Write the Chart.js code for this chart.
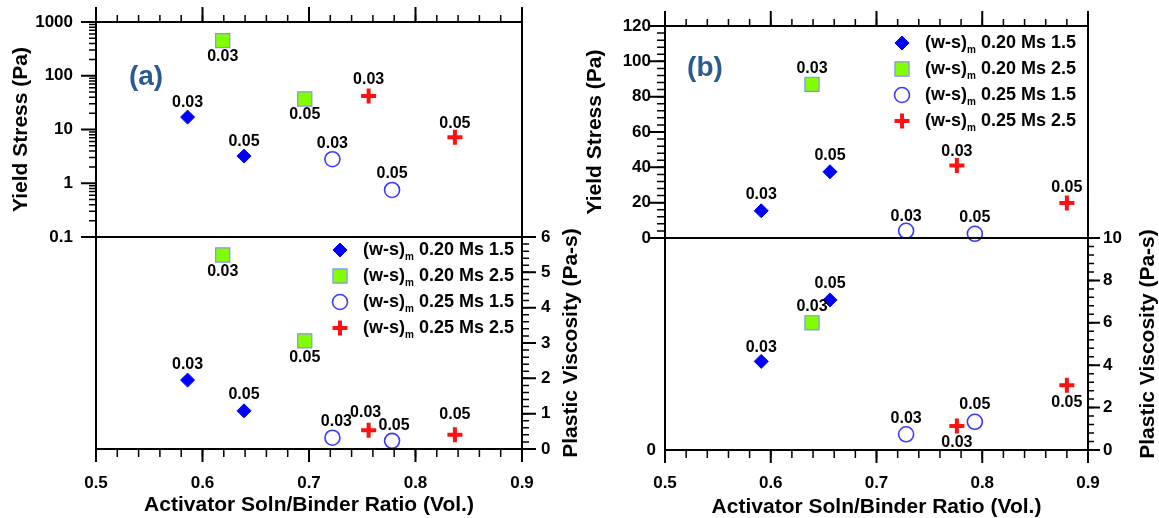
<!DOCTYPE html>
<html>
<head>
<meta charset="utf-8">
<title>Yield stress and plastic viscosity vs activator ratio</title>
<script src="https://cdn.jsdelivr.net/npm/chart.js"></script>
<style>
  html, body { margin: 0; padding: 0; background: #fff; }
  #wrap { position: relative; width: 1159px; height: 518px; overflow: hidden; background: #fff; }
  #wrap canvas { position: absolute; left: 0; top: 0; }
</style>
</head>
<body>
<div id="wrap">
  <canvas id="aTop" width="1159" height="518"></canvas>
  <canvas id="aBot" width="1159" height="518"></canvas>
  <canvas id="bTop" width="1159" height="518"></canvas>
  <canvas id="bBot" width="1159" height="518"></canvas>
</div>
<script>
// point tags and series names
const tags = ['0.03', '0.05'];
const bTags2 = ['0.03'];
const seriesNames = ['0.20 Ms 1.5', '0.20 Ms 2.5', '0.25 Ms 1.5', '0.25 Ms 2.5'];

// panel (a): activator soln/binder ratio, yield stress (Pa), plastic viscosity (Pa-s)
const aRatio1 = [0.586, 0.639];
const aYield1 = [17, 3.2];
const aVisc1 = [1.95, 1.08];
const aRatio2 = [0.619, 0.696];
const aYield2 = [450, 37];
const aVisc2 = [5.49, 3.06];
const aRatio3 = [0.722, 0.778];
const aYield3 = [2.8, 0.75];
const aVisc3 = [0.32, 0.23];
const aRatio4 = [0.756, 0.837];
const aYield4 = [42, 7.2];
const aVisc4 = [0.53, 0.40];

// panel (b)
const bRatio1 = [0.591, 0.656];
const bYield1 = [15.4, 37.5];
const bVisc1 = [4.18, 7.08];
const bRatio2 = [0.639];
const bYield2 = [87];
const bVisc2 = [6.0];
const bRatio3 = [0.728, 0.793];
const bYield3 = [4.1, 2.4];
const bVisc3 = [0.74, 1.33];
const bRatio4 = [0.776, 0.880];
const bYield4 = [41, 19.8];
const bVisc4 = [1.13, 3.06];

// tick labels
const xTicks = [0.5, 0.6, 0.7, 0.8, 0.9];
const aYieldTicks = [0.1, 1, 10, 100, 1000];
const aViscTicks = [0, 1, 2, 3, 4, 5, 6];
const bYieldTicks = [0, 20, 40, 60, 80, 100, 120];
const bViscTicks = [0, 2, 4, 6, 8, 10];

const FONT = "'Liberation Sans', Arial, Helvetica, sans-serif";
Chart.defaults.font.family = FONT;
Chart.defaults.font.size = 17;
Chart.defaults.font.weight = 'bold';
Chart.defaults.color = '#000';

// marker look for each series
const markers = [
  { style: 'rectRot', r: 7, bg: '#0000ff', border: '#0000ff', bw: 1 },
  { style: 'rect', r: 10, bg: '#80ff00', border: '#8c8cff', bw: 1.2 },
  { style: 'circle', r: 7.5, bg: 'rgba(0,0,0,0)', border: '#3a3aff', bw: 1.6 },
  { style: 'cross', r: 7.5, bg: '#ff0000', border: '#ff1010', bw: 4 }
];

function steps(lo, hi, st) {
  const out = [];
  const n = Math.round((hi - lo) / st);
  for (let i = 0; i <= n; i++) out.push(lo + i * st);
  return out;
}

function logMinor(lo, hi) {
  const out = [];
  for (let d = lo; d < hi; d *= 10) {
    for (let k = 2; k <= 9; k++) out.push(k * d);
  }
  return out;
}

function makeSet(k, xs, ys, tagList, place) {
  const m = markers[k];
  return {
    label: seriesNames[k],
    data: xs.map((x, i) => ({ x: x, y: ys[i] })),
    tags: tagList,
    tagPlace: place,
    showLine: false,
    clip: false,
    pointStyle: m.style,
    pointRadius: m.r,
    pointHoverRadius: m.r,
    pointBackgroundColor: m.bg,
    pointBorderColor: m.border,
    pointBorderWidth: m.bw
  };
}

function axis(o) {
  return {
    type: o.type || 'linear',
    position: o.position,
    min: o.min,
    max: o.max,
    afterBuildTicks: s => { s.ticks = o.ticks.map(v => ({ value: v })); },
    afterFit: s => {
      if (o.position === 'top' || o.position === 'bottom') s.height = o.size;
      else s.width = o.size;
    },
    ticks: {
      display: o.labels !== false,
      padding: o.pad || 0,
      autoSkip: false,
      maxRotation: 0,
      callback: v => (o.fmt ? o.fmt(v) : String(v))
    },
    grid: {
      display: true,
      drawOnChartArea: false,
      drawTicks: true,
      tickLength: o.tl || 0,
      color: 'rgba(0,0,0,0)',
      tickColor: 'rgba(0,0,0,0)'
    },
    border: { display: false },
    title: o.title
      ? { display: true, text: o.title, padding: o.titlePad, color: '#000',
          font: { size: 21, weight: 'bold', lineHeight: 1 } }
      : { display: false }
  };
}

// box around the plot area plus outward tick marks
const framePlugin = {
  id: 'frame',
  afterDraw(chart, args, opts) {
    const { ctx, chartArea: a } = chart;
    ctx.save();
    ctx.strokeStyle = '#000';
    ctx.lineWidth = 2;
    ctx.strokeRect(a.left, a.top, a.right - a.left, a.bottom - a.top);
    (opts.marks || []).forEach(m => {
      const sc = chart.scales[m.axis];
      const draw = (vals, len, w) => {
        ctx.lineWidth = w;
        ctx.beginPath();
        vals.forEach(v => {
          const p = sc.getPixelForValue(v);
          if (m.side === 'top') { ctx.moveTo(p, a.top); ctx.lineTo(p, a.top - len); }
          if (m.side === 'bottom') { ctx.moveTo(p, a.bottom); ctx.lineTo(p, a.bottom + len); }
          if (m.side === 'left') { ctx.moveTo(a.left, p); ctx.lineTo(a.left - len, p); }
          if (m.side === 'right') { ctx.moveTo(a.right, p); ctx.lineTo(a.right + len, p); }
        });
        ctx.stroke();
      };
      draw(m.minor, m.minorLen, 1.5);
      draw(m.major, m.majorLen, 2);
    });
    ctx.restore();
  }
};

// 0.03 / 0.05 tags next to each point
const tagPlugin = {
  id: 'tags',
  afterDatasetsDraw(chart) {
    const ctx = chart.ctx;
    ctx.save();
    ctx.font = 'bold 16px ' + FONT;
    ctx.fillStyle = '#000';
    ctx.textAlign = 'center';
    ctx.textBaseline = 'middle';
    chart.data.datasets.forEach((ds, i) => {
      const meta = chart.getDatasetMeta(i);
      meta.data.forEach((pt, j) => {
        const off = Array.isArray(ds.tagPlace) ? ds.tagPlace[j] : [0, ds.tagPlace];
        ctx.fillText(ds.tags[j], pt.x + off[0], pt.y + off[1]);
      });
    });
    ctx.restore();
  }
};

function drawMarker(ctx, m, x, y) {
  const r = m.r;
  ctx.save();
  ctx.fillStyle = m.bg;
  ctx.strokeStyle = m.border;
  ctx.lineWidth = m.bw;
  ctx.beginPath();
  if (m.style === 'rectRot') {
    ctx.moveTo(x, y - r); ctx.lineTo(x + r, y); ctx.lineTo(x, y + r); ctx.lineTo(x - r, y);
    ctx.closePath(); ctx.fill(); ctx.stroke();
  } else if (m.style === 'rect') {
    const s = r * Math.SQRT1_2;
    ctx.rect(x - s, y - s, 2 * s, 2 * s); ctx.fill(); ctx.stroke();
  } else if (m.style === 'circle') {
    ctx.arc(x, y, r, 0, Math.PI * 2); ctx.stroke();
  } else {
    ctx.moveTo(x - r, y); ctx.lineTo(x + r, y);
    ctx.moveTo(x, y - r); ctx.lineTo(x, y + r); ctx.stroke();
  }
  ctx.restore();
}

// panel letter, legend and the right-hand rotated title
const notePlugin = {
  id: 'notes',
  afterDraw(chart, args, opts) {
    const { ctx, chartArea: a } = chart;
    ctx.save();
    if (opts.letter) {
      ctx.font = 'bold 28px ' + FONT;
      ctx.fillStyle = '#2b5a93';
      ctx.textAlign = 'center';
      ctx.textBaseline = 'middle';
      ctx.fillText(opts.letter.text, a.left + opts.letter.dx, a.top + opts.letter.dy);
    }
    if (opts.legend) {
      const L = opts.legend;
      ctx.fillStyle = '#000';
      ctx.textBaseline = 'middle';
      ctx.textAlign = 'left';
      seriesNames.forEach((name, k) => {
        const mx = a.left + L.dx;
        const my = a.top + L.dy + k * L.step;
        drawMarker(ctx, markers[k], mx, my);
        let tx = mx + 23;
        ctx.font = 'bold 18px ' + FONT;
        ctx.fillText('(w-s)', tx, my);
        tx += ctx.measureText('(w-s)').width;
        ctx.font = 'bold 10px ' + FONT;
        ctx.fillText('m', tx, my + 7);
        tx += ctx.measureText('m').width;
        ctx.font = 'bold 18px ' + FONT;
        ctx.fillText(' ' + name, tx, my);
      });
    }
    if (opts.sideTitle) {
      const sc = chart.scales[opts.sideTitle.axis];
      ctx.font = 'bold 21px ' + FONT;
      ctx.fillStyle = '#000';
      ctx.textAlign = 'center';
      ctx.textBaseline = 'middle';
      ctx.translate(sc.right - opts.sideTitle.inset, (a.top + a.bottom) / 2);
      ctx.rotate(-Math.PI / 2);
      ctx.fillText(opts.sideTitle.text, 0, 0);
    }
    ctx.restore();
  }
};

function scatterChart(id, datasets, scales, padding, plugOpts) {
  return new Chart(document.getElementById(id), {
    type: 'scatter',
    data: { datasets: datasets },
    options: {
      responsive: false,
      animation: false,
      devicePixelRatio: 1,
      events: [],
      layout: { padding: padding },
      scales: scales,
      plugins: Object.assign({ legend: { display: false }, tooltip: { enabled: false } }, plugOpts)
    },
    plugins: [framePlugin, tagPlugin, notePlugin]
  });
}

const fmtX = v => v.toFixed(1);
const xTitle = 'Activator Soln/Binder Ratio (Vol.)';
const xMinor = steps(0.5, 0.9, 0.02);

// (a) top: yield stress, log scale
scatterChart('aTop', [
  makeSet(0, aRatio1, aYield1, tags, -15),
  makeSet(1, aRatio2, aYield2, tags, 16),
  makeSet(2, aRatio3, aYield3, tags, -16),
  makeSet(3, aRatio4, aYield4, tags, [[0, -16], [0, -14]])
], {
  x: axis({ position: 'top', min: 0.5, max: 0.9, ticks: xTicks, labels: false, size: 22 }),
  y: axis({ type: 'logarithmic', position: 'left', min: 0.1, max: 1000, ticks: aYieldTicks,
            size: 96, tl: 15, pad: 8, title: 'Yield Stress (Pa)', titlePad: 11 })
}, { left: 0, top: 0, right: 637, bottom: 281 }, {
  frame: { marks: [
    { axis: 'x', side: 'top', major: xTicks, minor: xMinor, majorLen: 15, minorLen: 7 },
    { axis: 'y', side: 'left', major: aYieldTicks, minor: logMinor(0.1, 1000), majorLen: 15, minorLen: 7 }
  ] },
  notes: { letter: { text: '(a)', dx: 50, dy: 55.5 } }
});

// (a) bottom: plastic viscosity
scatterChart('aBot', [
  makeSet(0, aRatio1, aVisc1, tags, -16),
  makeSet(1, aRatio2, aVisc2, tags, 17),
  makeSet(2, aRatio3, aVisc3, tags, [[4, -16], [2, -15]]),
  makeSet(3, aRatio4, aVisc4, tags, [[-3, -18], [0, -20]])
], {
  x: axis({ position: 'bottom', min: 0.5, max: 0.9, ticks: xTicks, fmt: fmtX,
            size: 69, tl: 13, pad: 11, title: xTitle, titlePad: 2 }),
  y: axis({ position: 'right', min: 0, max: 6, ticks: aViscTicks, size: 62, tl: 14, pad: 5 })
}, { left: 96, top: 237, right: 575, bottom: 0 }, {
  frame: { marks: [
    { axis: 'x', side: 'bottom', major: xTicks, minor: xMinor, majorLen: 13, minorLen: 8 },
    { axis: 'y', side: 'right', major: aViscTicks, minor: steps(0, 6, 0.2), majorLen: 14, minorLen: 7 }
  ] },
  notes: {
    legend: { dx: 244, dy: 13, step: 26 },
    sideTitle: { axis: 'y', text: 'Plastic Viscosity (Pa-s)', inset: 12.5 }
  }
});

// (b) top: yield stress, linear
scatterChart('bTop', [
  makeSet(0, bRatio1, bYield1, tags, -16),
  makeSet(1, bRatio2, bYield2, bTags2, -16),
  makeSet(2, bRatio3, bYield3, tags, [[0, -14], [0, -16]]),
  makeSet(3, bRatio4, bYield4, tags, [[0, -14], [0, -15]])
], {
  x: axis({ position: 'top', min: 0.5, max: 0.9, ticks: xTicks, labels: false, size: 26 }),
  y: axis({ position: 'left', min: 0, max: 120, ticks: bYieldTicks,
            size: 87, tl: 14, pad: 0, title: 'Yield Stress (Pa)', titlePad: 7 })
}, { left: 578, top: 0, right: 71, bottom: 280 }, {
  frame: { marks: [
    { axis: 'x', side: 'top', major: xTicks, minor: xMinor, majorLen: 15, minorLen: 7 },
    { axis: 'y', side: 'left', major: bYieldTicks, minor: steps(0, 120, 4), majorLen: 16, minorLen: 8 }
  ] },
  notes: {
    letter: { text: '(b)', dx: 40, dy: 42.5 },
    legend: { dx: 237, dy: 17, step: 26 }
  }
});

// (b) bottom: plastic viscosity
scatterChart('bBot', [
  makeSet(0, bRatio1, bVisc1, tags, [[0, -14], [0, -16]]),
  makeSet(1, bRatio2, bVisc2, bTags2, -16),
  makeSet(2, bRatio3, bVisc3, tags, [[0, -16], [0, -17]]),
  makeSet(3, bRatio4, bVisc4, tags, 17)
], {
  x: axis({ position: 'bottom', min: 0.5, max: 0.9, ticks: xTicks, fmt: fmtX,
            size: 68, tl: 13, pad: 10, title: xTitle, titlePad: 0 }),
  y: axis({ position: 'right', min: 0, max: 10, ticks: bViscTicks, size: 71, tl: 12, pad: 3 }),
  y2: axis({ position: 'left', min: 0, max: 10, ticks: [0], size: 20, tl: 0, pad: 9 })
}, { left: 645, top: 238, right: 0, bottom: 0 }, {
  frame: { marks: [
    { axis: 'x', side: 'bottom', major: xTicks, minor: xMinor, majorLen: 13, minorLen: 8 },
    { axis: 'y', side: 'right', major: bViscTicks, minor: steps(0, 10, 0.4), majorLen: 12, minorLen: 6 }
  ] },
  notes: { sideTitle: { axis: 'y', text: 'Plastic Viscosity (Pa-s)', inset: 10.5 } }
});
</script>
</body>
</html>
